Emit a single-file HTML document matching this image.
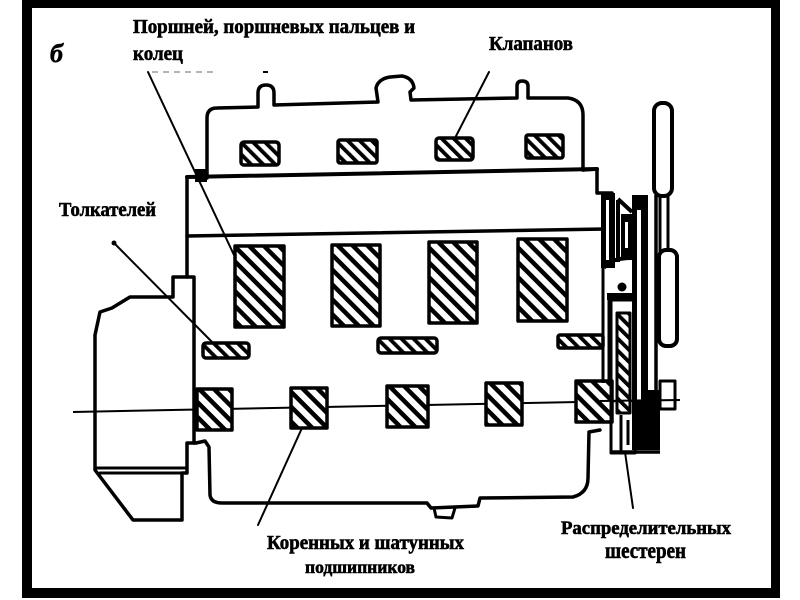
<!DOCTYPE html>
<html><head><meta charset="utf-8">
<style>
html,body{margin:0;padding:0;background:#fff;}
svg{display:block;}
text{font-family:"Liberation Serif","DejaVu Serif",serif;font-weight:bold;fill:#000;stroke:#000;stroke-width:0.6;}
</style></head>
<body>
<svg width="800" height="600" viewBox="0 0 800 600" xmlns="http://www.w3.org/2000/svg">
<defs>
<pattern id="h" patternUnits="userSpaceOnUse" width="10.5" height="10.5" patternTransform="rotate(-45)">
<rect width="10.5" height="10.5" fill="#fff"/><rect width="4.5" height="10.5" fill="#000"/>
</pattern>
<pattern id="hs" patternUnits="userSpaceOnUse" width="8.5" height="8.5" patternTransform="rotate(-45)">
<rect width="8.5" height="8.5" fill="#fff"/><rect width="3.8" height="8.5" fill="#000"/>
</pattern>
</defs>
<rect width="800" height="600" fill="#fff"/>
<!-- frame -->
<rect x="22" y="0" width="758" height="8" fill="#000"/>
<rect x="22" y="588" width="758" height="10" fill="#000"/>
<rect x="22" y="0" width="10" height="598" fill="#000"/>
<rect x="771" y="0" width="9" height="598" fill="#000"/>

<g fill="none" stroke="#000" stroke-width="3.5" stroke-linejoin="round" stroke-linecap="round">
<!-- head -->
<path d="M207,178 L207,118 Q207,108 217,108 L258,107 L258,93 Q258,85 266,85 Q274,85 274,93 L274,105 L378,102 L376,88 Q378,79 390,77 L402,76 Q413,78 414,88 L410,92 L411,100 L517,98 L517,86 Q517,81 522,81 Q528,81 528,86 L528,98 L568,98 Q583,100 583,115 L583,170"/>
<!-- block lines -->
<path d="M187,177 L597,169" stroke-width="4"/>
<path d="M583,170 L597,169 L597,193 L612,193"/>
<path d="M187,236 L605,229" stroke-width="3.5"/>
<!-- left housing -->
<path d="M187,177 L187,277 L173,277 L173,297 L130,297 L112,308 L100,312 L95,335 L95,470 L133,520 L182,520 L182,473 L187,473 L187,443 L196,443"/>
<path d="M187,277 L194,277 L194,443"/>
<path d="M95,468 L187,468" stroke-width="3"/>
<path d="M100,473 L182,473" stroke-width="3"/>
<!-- oil pan -->
<path d="M196,443 L205,441 L209,447 L210,495 Q211,503 222,503 L427,503 L431,508 L478,506 L480,498 L573,497 Q588,493 588,478 L589,432 L600,430"/>
<path d="M434,508 L436,517 L452,518 L455,508" stroke-width="3"/>
</g>
<!-- tick and blob -->
<line x1="263" y1="72" x2="268" y2="72" stroke="#000" stroke-width="2"/>
<rect x="195" y="169" width="12" height="13" fill="#000"/>
<!-- crank axis -->
<line x1="73" y1="412" x2="680" y2="400" stroke="#000" stroke-width="2"/>

<g stroke="#000" stroke-width="3.5" stroke-linejoin="round">
<!-- cylinders -->
<rect x="235" y="246" width="49" height="81" fill="url(#h)"/>
<rect x="332" y="245" width="48" height="81" fill="url(#h)"/>
<rect x="429" y="242" width="48" height="81" fill="url(#h)"/>
<rect x="518" y="239" width="49" height="82" fill="url(#h)"/>
<!-- bearings -->
<rect x="197" y="389" width="35" height="41" fill="url(#h)"/>
<rect x="291" y="388" width="36" height="40" fill="url(#h)"/>
<rect x="387" y="386" width="41" height="41" fill="url(#h)"/>
<rect x="486" y="383" width="36" height="42" fill="url(#h)"/>
<rect x="576" y="381" width="36" height="41" fill="url(#h)"/>
<!-- tappets -->
<rect x="203" y="343" width="46" height="15" rx="3" fill="url(#hs)"/>
<rect x="378" y="338" width="59" height="15" rx="3" fill="url(#hs)"/>
<rect x="558" y="335" width="45" height="13" rx="2" fill="url(#hs)"/>
<!-- valves -->
<rect x="241" y="142" width="38" height="23" rx="3" fill="url(#hs)"/>
<rect x="338" y="140" width="39" height="23" rx="2" fill="url(#hs)"/>
<rect x="436" y="138" width="37" height="22" rx="3" fill="url(#hs)"/>
<rect x="526" y="135" width="37" height="23" rx="2" fill="url(#hs)"/>
</g>

<!-- right assembly -->
<g stroke="#000" stroke-linejoin="round">
<rect x="601" y="193" width="14" height="75" fill="#000" stroke="none"/>
<rect x="606" y="200" width="3" height="60" fill="#fff" stroke="none"/>
<path d="M618,199 L632,212 M618,200 L618,262" stroke-width="4" fill="none"/>
<rect x="621" y="214" width="11" height="44" fill="#000" stroke="none"/>
<rect x="625" y="222" width="3" height="26" fill="#fff" stroke="none"/>
<path d="M604,268 Q610,258 632,258" stroke-width="4" fill="none"/>
<rect x="632" y="195" width="16" height="255" fill="#000" stroke="none"/>
<rect x="637" y="210" width="4" height="190" fill="#fff" stroke="none"/>
<line x1="656" y1="195" x2="656" y2="450" stroke-width="3.5"/>
<rect x="648" y="390" width="12" height="60" fill="#000" stroke="none"/>
<circle cx="622" cy="287" r="4.5" fill="#000" stroke="none"/>
<rect x="607" y="293" width="25" height="7" fill="#000" stroke="none"/>
<rect x="611" y="300" width="24" height="153" fill="none" stroke-width="3"/>
<rect x="617" y="313" width="13" height="100" fill="url(#hs)" stroke-width="3"/>
<path d="M603,268 L603,383 M609,300 L609,383" stroke-width="3" fill="none"/>
<path d="M610,452 L660,452" stroke-width="3.5"/>
<path d="M621,415 L621,452 M628,420 L628,445" stroke-width="3"/>
<rect x="660" y="381" width="15" height="28" fill="#fff" stroke-width="3"/>
<rect x="654" y="103" width="18" height="93" rx="8" fill="#fff" stroke-width="4"/>
<path d="M660,196 L660,252 M668,196 L668,252" stroke-width="3" fill="none"/>
<rect x="659" y="250" width="18" height="96" rx="7" fill="#fff" stroke-width="4"/>
</g>
<line x1="600" y1="401" x2="680" y2="400" stroke="#000" stroke-width="2"/>

<!-- leader lines -->
<g stroke="#000" stroke-width="2" stroke-linecap="round">
<line x1="148" y1="72" x2="234" y2="255"/>
<line x1="489" y1="72" x2="454" y2="140"/>
<line x1="114" y1="243" x2="215" y2="345"/>
<line x1="258" y1="525" x2="302" y2="428"/>
<line x1="633" y1="508" x2="625" y2="452"/>
</g>
<circle cx="114" cy="243" r="2.5" fill="#000"/>
<line x1="152" y1="72" x2="215" y2="72" stroke="#888" stroke-width="1.2" stroke-dasharray="6,5"/>

<!-- labels -->
<text x="50" y="62" font-size="26" font-style="italic">б</text>
<text x="133" y="33" font-size="20" textLength="282" lengthAdjust="spacingAndGlyphs">Поршней, поршневых пальцев и</text>
<text x="133" y="60" font-size="21" textLength="50" lengthAdjust="spacingAndGlyphs">колец</text>
<text x="489" y="50" font-size="20" textLength="84" lengthAdjust="spacingAndGlyphs">Клапанов</text>
<text x="59" y="216" font-size="20" textLength="97" lengthAdjust="spacingAndGlyphs">Толкателей</text>
<text x="267" y="549" font-size="20" textLength="197" lengthAdjust="spacingAndGlyphs">Коренных и шатунных</text>
<text x="305" y="573" font-size="18" textLength="110" lengthAdjust="spacingAndGlyphs">подшипников</text>
<text x="561" y="534" font-size="19" textLength="170" lengthAdjust="spacingAndGlyphs">Распределительных</text>
<text x="605" y="558" font-size="23" textLength="81" lengthAdjust="spacingAndGlyphs">шестерен</text>
</svg>
</body></html>
